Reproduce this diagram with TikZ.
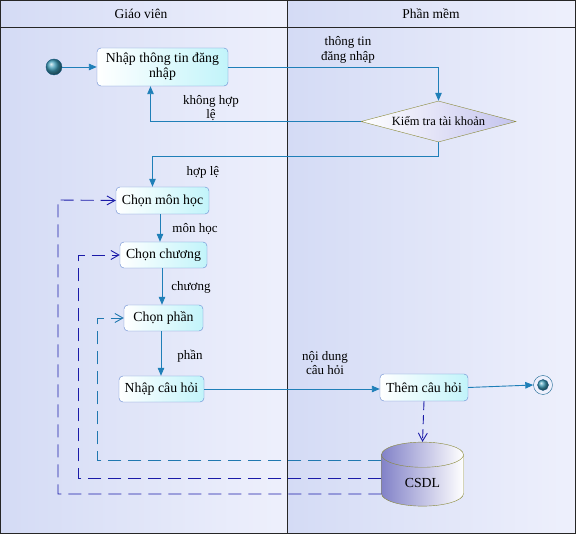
\documentclass[tikz,border=0pt]{standalone}
\usepackage{fontspec}
\setmainfont{Liberation Serif}
\usetikzlibrary{shapes.geometric,arrows.meta,calc}
\definecolor{flow}{HTML}{1F7FB8}
\definecolor{navy}{HTML}{1A1AA8}
\definecolor{tealdash}{HTML}{2078B0}
\definecolor{lanel}{HTML}{D4DBF5}
\definecolor{laner}{HTML}{EEF0FC}
\definecolor{actborder}{HTML}{6488D0}
\definecolor{actfill}{HTML}{C2F4FA}
\definecolor{olive}{HTML}{8A8A3A}
\definecolor{dbfill}{HTML}{8282C8}
\definecolor{diafill}{HTML}{C4C4EE}
\definecolor{ballc}{HTML}{3E9CB8}
\tikzset{
  act/.style={draw=actborder, rounded corners=4pt, left color=white, right color=actfill,
    font=\fontsize{13.8}{15}\selectfont, inner sep=2pt, align=center},
  decision/.style={diamond, draw=olive, left color=white, right color=diafill,
    minimum width=155pt, minimum height=41pt, aspect=3.8, inner sep=0pt,
    font=\fontsize{12.5}{13}\selectfont},
  lbl/.style={font=\fontsize{13}{14.5}\selectfont, align=center},
  hdr/.style={font=\fontsize{13.5}{14}\selectfont},
  flowarr/.style={draw=flow, line width=0.9pt, -{Triangle[length=8pt,width=6.5pt]}},
  fbnavy/.style={draw=navy, line width=0.9pt, dash pattern=on 13pt off 7pt, -{Straight Barb[length=8pt,width=9pt]}},
  fbteal/.style={draw=tealdash, line width=0.9pt, dash pattern=on 13pt off 7pt, -{Straight Barb[length=8pt,width=9pt]}},
  startn/.style={circle, shading=ball, ball color=ballc, draw=flow!70!black, minimum size=16pt, inner sep=0pt},
}
\begin{document}
\begin{tikzpicture}[x=1pt,y=-1pt]
\useasboundingbox (0,0) rectangle (576,534);
\shade[left color=lanel, right color=laner] (0,0) rectangle (287,534);
\shade[left color=lanel, right color=laner] (287,0) rectangle (576,534);
\draw[black!85, line width=0.9pt] (0.5,0.5) rectangle (575.5,533.5);
\draw[black!85, line width=0.9pt] (287,0) -- (287,534);
\draw[black!85, line width=0.9pt] (0,27) -- (576,27);
\node[hdr] (h1) at (141,14) {Giáo viên};
\node[hdr] (h2) at (431,14) {Phần mềm};

\node[startn] (s) at (54,67) {};
\node[act, minimum width=131pt, minimum height=38pt] (nhap) at (162.5,67) {Nhập thông tin đăng\\nhập};
\node[decision] (kt) at (438.5,121.5) {Kiểm tra tài khoản};
\node[act, minimum width=93pt, minimum height=27pt] (mon) at (162.5,200.5) {Chọn môn học};
\node[act, minimum width=87pt, minimum height=26pt] (chuong) at (163.5,255) {Chọn chương};
\node[act, minimum width=79pt, minimum height=26pt] (phan) at (163.5,318) {Chọn phần};
\node[act, minimum width=85pt, minimum height=26pt] (cauhoi) at (161.5,389) {Nhập câu hỏi};
\node[act, minimum width=88pt, minimum height=27pt] (them) at (424,387.5) {Thêm câu hỏi};
\node[circle, draw=flow!80!black, fill=laner, minimum size=19pt, inner sep=0pt] (e) at (543,385) {};
\node[startn, minimum size=11pt] (ein) at (543,385) {};
\node[cylinder, shape border rotate=90, draw=olive, left color=dbfill, right color=white,
  minimum width=82pt, minimum height=64pt, aspect=0.6, font=\fontsize{13.8}{15}\selectfont] (csdl) at (422.5,483) {CSDL};

\draw[flowarr] (s) -- (nhap);
\draw[flowarr] (nhap.east) -- (kt.north |- nhap.east) -- (kt.north);
\draw[flowarr] (kt.west) -| ([xshift=-12pt]nhap.south);
\draw[flowarr] (kt.south) -- ++(0,14) -| ([xshift=-10pt]mon.north);
\draw[flowarr] (mon.south -| 160,0) -- (chuong.north -| 160,0);
\draw[flowarr] (chuong.south -| 162,0) -- (phan.north -| 162,0);
\draw[flowarr] (phan.south -| 161,0) -- (cauhoi.north -| 161,0);
\draw[flowarr] (cauhoi.east) -- (them.west |- cauhoi.east);
\draw[flowarr] (them.east) -- (e.west);
\draw[fbnavy, dash pattern=on 9pt off 5pt] (them.south) -- (csdl.north);

\draw[fbteal] (csdl.west |- 0,460) -| (97,318) -- (phan.west);
\draw[fbnavy] (csdl.west |- 0,478) -| (78,255) -- (chuong.west);
\draw[fbnavy] (csdl.west |- 0,494) -| (58,200) -- (mon.west);

\node[lbl] (l1) at (348,50) {thông tin\\đăng nhập};
\node[lbl] (l2) at (211,108) {không hợp\\lệ};
\node[lbl] (l3) at (203,172) {hợp lệ};
\node[lbl] (l4) at (195,229) {môn học};
\node[lbl] (l5) at (191,287) {chương};
\node[lbl] (l6) at (190,356) {phần};
\node[lbl] (l7) at (325,363) {nội dung\\câu hỏi};
\end{tikzpicture}
\end{document}
